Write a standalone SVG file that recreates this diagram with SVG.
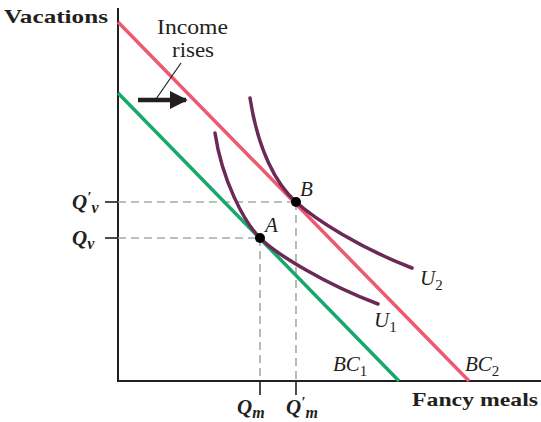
<svg xmlns="http://www.w3.org/2000/svg" width="541" height="422" viewBox="0 0 541 422">
<defs>
<style>
.ax{stroke:#231f20;stroke-width:2;fill:none}
.dash{stroke:#a7a9ac;stroke-width:1.6;stroke-dasharray:8,5;fill:none}
.tick{stroke:#231f20;stroke-width:1.6}
.bc1{stroke:#18a86b;stroke-width:3.5;fill:none}
.bc2{stroke:#ec5a6f;stroke-width:3.5;fill:none}
.u{stroke:#6b2a55;stroke-width:3.5;fill:none;stroke-linecap:round}
.t{font-family:"Liberation Serif","DejaVu Serif",serif;fill:#231f20}
.b{font-weight:bold}
.lab{font-family:"Liberation Serif","DejaVu Serif",serif;font-style:italic;font-size:21px;fill:#231f20}
.sub{font-size:15px;font-style:normal}
</style>
<marker id="ah" viewBox="0 0 10 10" refX="9" refY="5" markerWidth="4" markerHeight="4" orient="auto" markerUnits="strokeWidth">
<path d="M0,0 L10,5 L0,10 Z" fill="#231f20"/>
</marker>
</defs>
<g id="axes">
<line class="ax" x1="118" y1="8" x2="118" y2="382"/>
<line class="ax" x1="117" y1="381" x2="541" y2="381"/>
<text class="t b" x="4" y="23" font-size="19" textLength="104" lengthAdjust="spacingAndGlyphs">Vacations</text>
<text class="t b" x="412" y="406" font-size="19" textLength="126" lengthAdjust="spacingAndGlyphs">Fancy meals</text>
</g>
<g id="connectors">
<line class="dash" x1="118" y1="202" x2="296" y2="202"/>
<line class="dash" x1="118" y1="238" x2="260" y2="238"/>
<line class="dash" x1="260" y1="238" x2="260" y2="381"/>
<line class="dash" x1="296" y1="202" x2="296" y2="381"/>
<line class="tick" x1="105" y1="202" x2="118" y2="202"/>
<line class="tick" x1="105" y1="238" x2="118" y2="238"/>
<line class="tick" x1="260" y1="381" x2="260" y2="395"/>
<line class="tick" x1="296" y1="381" x2="296" y2="395"/>
</g>
<g id="bc1">
<line class="bc1" x1="118" y1="93" x2="399" y2="381"/>
<text class="lab" x="333" y="371">BC<tspan class="sub" dy="5">1</tspan></text>
</g>
<g id="bc2">
<line class="bc2" x1="118" y1="22" x2="469" y2="381"/>
<text class="lab" x="465" y="371">BC<tspan class="sub" dy="5">2</tspan></text>
</g>
<g id="u1">
<path class="u" d="M215,133 C222,180 244,222 260,238 C276,254 325,284 378,304"/>
<text class="lab" x="374" y="327">U<tspan class="sub" dy="5">1</tspan></text>
</g>
<g id="u2">
<path class="u" d="M250,98 C258,150 276,184 296,202 C316,220 360,248 412,268"/>
<text class="lab" x="420" y="285">U<tspan class="sub" dy="5">2</tspan></text>
</g>
<g id="pointA">
<circle cx="260" cy="238" r="5" fill="#000"/>
<text class="lab" x="265" y="232">A</text>
</g>
<g id="pointB">
<circle cx="296" cy="202" r="5" fill="#000"/>
<text class="lab" x="300" y="196">B</text>
</g>
<g id="qlabels">
<text class="lab b" x="72" y="209">Q<tspan dy="-7" font-size="15">′</tspan><tspan dy="11" font-size="16">v</tspan></text>
<text class="lab b" x="72" y="245">Q<tspan dy="4" font-size="16">v</tspan></text>
<text class="lab b" x="237" y="414">Q<tspan dy="4" font-size="16">m</tspan></text>
<text class="lab b" x="286" y="414">Q<tspan dy="-7" font-size="15">′</tspan><tspan dy="11" font-size="16">m</tspan></text>
</g>
<g id="income">
<text class="t" x="157" y="34" font-size="21" textLength="71" lengthAdjust="spacingAndGlyphs">Income</text>
<text class="t" x="172" y="57" font-size="21" textLength="42" lengthAdjust="spacingAndGlyphs">rises</text>
<line x1="181" y1="63" x2="156" y2="99" stroke="#231f20" stroke-width="1.2"/>
<line x1="138" y1="100" x2="186" y2="100" stroke="#231f20" stroke-width="4.5" marker-end="url(#ah)"/>
</g>
</svg>
